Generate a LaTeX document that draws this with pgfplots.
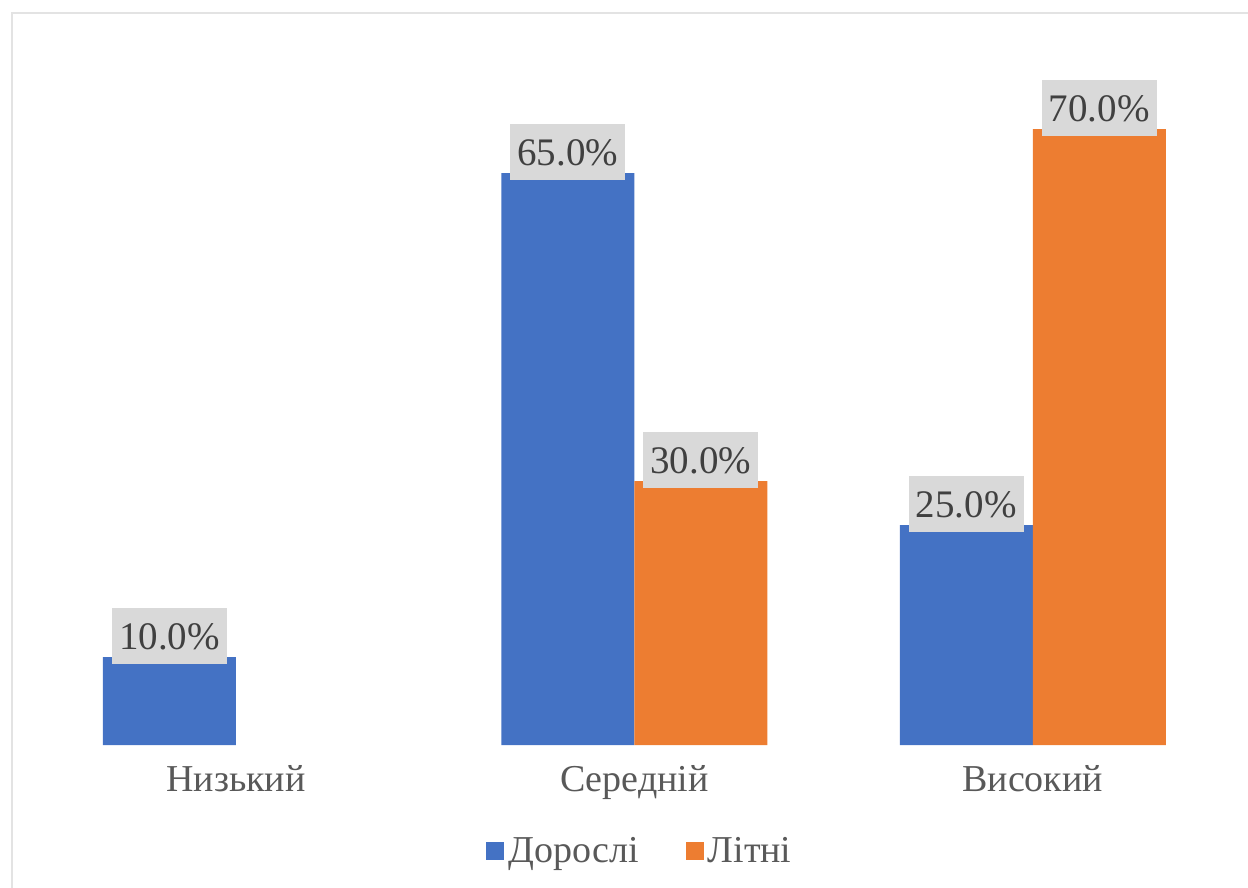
\documentclass[border=0pt]{standalone}
\usepackage{fontspec}
\setmainfont{Liberation Serif}
\usepackage{pgfplots}
\pgfplotsset{compat=1.18}
\definecolor{cblue}{HTML}{4472C4}
\definecolor{corange}{HTML}{ED7D31}
\definecolor{lblbg}{HTML}{D9D9D9}
\definecolor{lbltxt}{HTML}{404040}
\definecolor{ticktxt}{HTML}{595959}
\definecolor{framec}{HTML}{E3E3E3}
\begin{document}
\begin{tikzpicture}
\useasboundingbox (0pt,0pt) rectangle (1248pt,-888pt);
\draw[framec, line width=1.5pt] (12pt,-13pt) rectangle (1300pt,-950pt);
\begin{axis}[
 at={(36.75pt,-745pt)}, anchor=south west,
 scale only axis, width=1195.25pt, height=704pt,
 xmin=-0.5, xmax=2.5, ymin=0, ymax=80,
 ybar=0pt, bar width=133pt,
 axis line style={draw=none},
 ytick=\empty, xtick={0,1,2}, xticklabels={Низький,Середній,Високий},
 major tick length=0pt,
 xticklabel style={font=\fontsize{38}{46}\selectfont, text=ticktxt, yshift=-17pt},
 nodes near coords={\pgfmathprintnumber[fixed,fixed zerofill,precision=1]{\pgfplotspointmeta}\%},
 nodes near coords style={font=\fontsize{39}{46}\selectfont, text=lbltxt, fill=lblbg, anchor=south, yshift=-7pt, inner xsep=7pt, inner ysep=14pt, text height=28pt, text depth=0pt},
 /pgf/number format/assume math mode=true,
 legend columns=2,
 legend style={at={(0.5047,-0.1506)}, anchor=center, draw=none, fill=none, font=\fontsize{38}{46}\selectfont, text=ticktxt, /tikz/every even column/.append style={column sep=45pt}, /tikz/every odd column/.append style={column sep=2pt}},
 legend cell align=left,
]
\addplot[fill=cblue, draw=none, legend image code/.code={\fill[cblue] (0pt,-9pt) rectangle (18pt,9pt);}] coordinates {(0,10) (1,65) (2,25)};
\addplot[fill=corange, draw=none, legend image code/.code={\fill[corange] (0pt,-9pt) rectangle (18pt,9pt);}] coordinates {(1,30) (2,70)};
\legend{Дорослі, Літні}
\end{axis}
\end{tikzpicture}
\end{document}
